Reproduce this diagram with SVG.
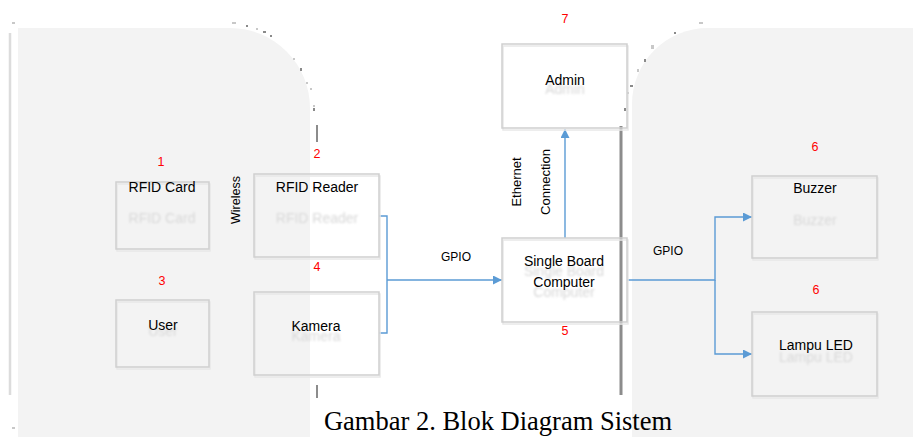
<svg xmlns="http://www.w3.org/2000/svg" width="913" height="437" viewBox="0 0 913 437">
<defs>
<style>
.box{fill:none;stroke:#cfcfcf;stroke-width:1.5}
.shadow{fill:none;stroke:#e8e8e8;stroke-width:1.5}
.lbl{font-family:"Liberation Sans",Arial,sans-serif;font-size:14px;fill:#000;text-anchor:middle}
.ghost{font-family:"Liberation Sans",Arial,sans-serif;font-size:14px;fill:#d8d8d8;text-anchor:middle;filter:url(#blur)}
.num{font-family:"Liberation Sans",Arial,sans-serif;font-size:12.5px;fill:#ff0000;text-anchor:middle}
.sm{font-family:"Liberation Sans",Arial,sans-serif;font-size:12px;fill:#000;text-anchor:middle}
.con{fill:none;stroke:#5b9bd5;stroke-width:1.4}
.dot{fill:#8a8a8a}
.ldot{fill:#c8c8c8}
</style>
<filter id="blur" x="-10%" y="-50%" width="120%" height="200%"><feGaussianBlur stdDeviation="0.8"/></filter>
<marker id="arr" viewBox="0 0 10 10" refX="10" refY="5" markerWidth="9" markerHeight="9" markerUnits="userSpaceOnUse" orient="auto"><path d="M0,0 L10,5 L0,10 Z" fill="#5b9bd5"/></marker>
</defs>
<rect width="913" height="437" fill="#ffffff"/>
<g id="backgrounds">
<path d="M18,28 H230 A80,80 0 0 1 310,108 V437 H18 Z" fill="#f3f3f3"/>
<path d="M913,28 H708 A76,76 0 0 0 632,104 V437 H913 Z" fill="#f3f3f3"/>
<line x1="10" y1="33" x2="10" y2="395" stroke="#dcdcdc" stroke-width="2.5"/>
<line x1="621" y1="126" x2="621" y2="395" stroke="#8c8c8c" stroke-width="3"/>
<line x1="317" y1="125" x2="317" y2="142" stroke="#8c8c8c" stroke-width="2"/>
<line x1="317" y1="385" x2="317" y2="398" stroke="#8c8c8c" stroke-width="2"/>
<rect class="ldot" x="12" y="22" width="3" height="2"/>
<rect class="ldot" x="232" y="22" width="4" height="2"/>
<rect class="dot" x="246" y="25" width="2" height="2"/>
<rect class="ldot" x="256" y="28" width="2" height="2"/>
<rect class="dot" x="263" y="31" width="3" height="2"/>
<rect class="dot" x="270" y="35" width="2" height="2"/>
<rect class="ldot" x="293" y="58" width="2" height="2"/>
<rect class="dot" x="300" y="68" width="2" height="3"/>
<rect class="ldot" x="306" y="82" width="2" height="2"/>
<rect class="ldot" x="310" y="88" width="2" height="2"/>
<rect class="ldot" x="313" y="105" width="2" height="2"/>
<rect class="dot" x="313" y="108" width="2" height="3"/>
<rect class="ldot" x="12" y="427" width="3" height="2"/>
<rect class="ldot" x="699" y="22" width="4" height="2"/>
<rect class="dot" x="674" y="32" width="2" height="2"/>
<rect class="ldot" x="651" y="45" width="3" height="4"/>
<rect class="dot" x="644" y="59" width="2" height="3"/>
<rect class="ldot" x="637" y="69" width="2" height="3"/>
<rect class="dot" x="630" y="85" width="3" height="2"/>
<rect class="dot" x="627" y="92" width="2" height="2"/>
<rect class="dot" x="624" y="108" width="2" height="3"/>
</g>
<g id="connectors">
<polyline class="con" points="379,216 387,216 387,333 379,333"/>
<line class="con" x1="387" y1="280" x2="502" y2="280" marker-end="url(#arr)"/>
<line class="con" x1="565" y1="238" x2="565" y2="129" marker-end="url(#arr)"/>
<polyline class="con" points="627,280 715,280 715,217 752,217" marker-end="url(#arr)"/>
<polyline class="con" points="715,280 715,354 752,354" marker-end="url(#arr)"/>
<text class="sm" x="236" y="200" transform="rotate(-90 236 200)" dy="4" style="font-size:12.5px">Wireless</text>
<text class="sm" x="517" y="182" transform="rotate(-90 517 182)" dy="4" style="font-size:13px">Ethernet</text>
<text class="sm" x="546" y="182" transform="rotate(-90 546 182)" dy="4" style="font-size:13px">Connection</text>
<text class="sm" x="456" y="261">GPIO</text>
<text class="sm" x="668" y="255">GPIO</text>
</g>
<g id="rfid-card">
<rect class="shadow" x="117" y="184" width="93" height="67"/>
<rect class="box" x="116" y="182" width="93" height="67"/>
<text class="num" x="161" y="166">1</text>
<text class="ghost" x="162" y="223">RFID Card</text>
<text class="lbl" x="162" y="192">RFID Card</text>
</g>
<g id="rfid-reader">
<rect class="shadow" x="255" y="176" width="125" height="83"/>
<rect class="box" x="254" y="174" width="125" height="83"/>
<text class="num" x="317" y="158">2</text>
<text class="ghost" x="317" y="223">RFID Reader</text>
<text class="lbl" x="317" y="192">RFID Reader</text>
</g>
<g id="user">
<rect class="shadow" x="117" y="302" width="93" height="67"/>
<rect class="box" x="116" y="300" width="93" height="67"/>
<text class="num" x="162" y="285">3</text>
<text class="ghost" x="163" y="336">User</text>
<text class="lbl" x="163" y="330">User</text>
</g>
<g id="kamera">
<rect class="shadow" x="255" y="294" width="125" height="83"/>
<rect class="box" x="254" y="292" width="125" height="83"/>
<text class="num" x="317" y="271">4</text>
<text class="ghost" x="316" y="341">Kamera</text>
<text class="lbl" x="316" y="331">Kamera</text>
</g>
<g id="admin">
<rect class="shadow" x="503" y="46" width="125" height="84"/>
<rect class="box" x="502" y="44" width="125" height="84"/>
<text class="num" x="565" y="23">7</text>
<text class="ghost" x="565" y="94">Admin</text>
<text class="lbl" x="565" y="85">Admin</text>
</g>
<g id="single-board-computer">
<rect class="shadow" x="503" y="240" width="125" height="84"/>
<rect class="box" x="502" y="238" width="125" height="84"/>
<text class="num" x="565" y="335">5</text>
<text class="ghost" x="564" y="276">Single Board</text>
<text class="ghost" x="564" y="297">Computer</text>
<text class="lbl" x="564" y="266">Single Board</text>
<text class="lbl" x="564" y="287">Computer</text>
</g>
<g id="buzzer">
<rect class="shadow" x="753" y="178" width="125" height="82"/>
<rect class="box" x="752" y="176" width="125" height="82"/>
<text class="num" x="815" y="151">6</text>
<text class="ghost" x="815" y="225">Buzzer</text>
<text class="lbl" x="815" y="193">Buzzer</text>
</g>
<g id="lampu-led">
<rect class="shadow" x="753" y="314" width="125" height="84"/>
<rect class="box" x="752" y="312" width="125" height="84"/>
<text class="num" x="816" y="294">6</text>
<text class="ghost" x="816" y="362">Lampu LED</text>
<text class="lbl" x="816" y="350">Lampu LED</text>
</g>
<text x="498" y="430" text-anchor="middle" style="font-family:'Liberation Serif','Times New Roman',serif;font-size:26.5px;fill:#000">Gambar 2. Blok Diagram Sistem</text>
</svg>
